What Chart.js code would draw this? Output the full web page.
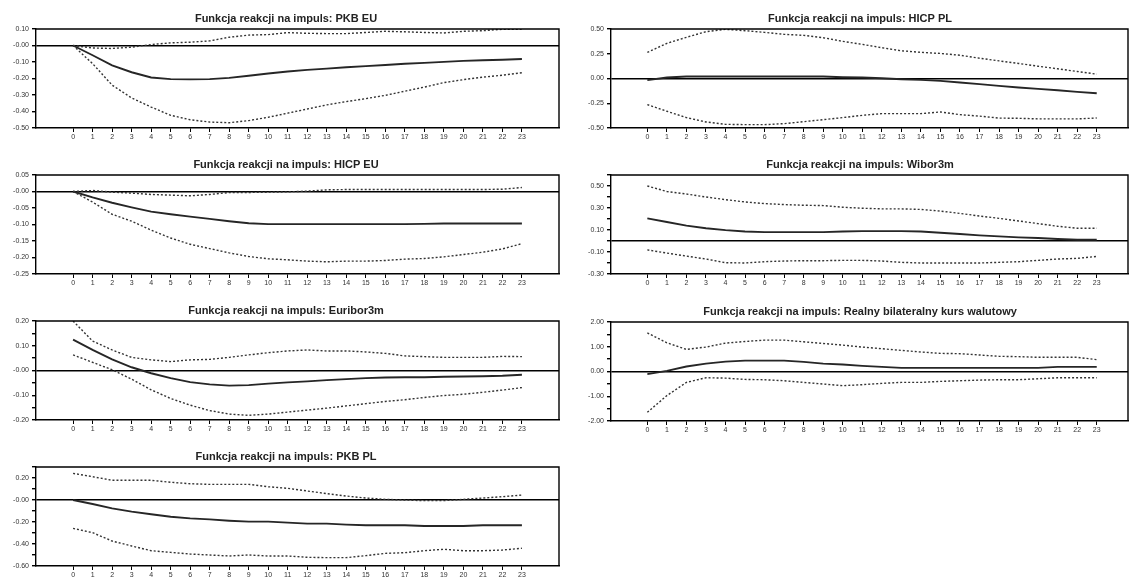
<!DOCTYPE html>
<html>
<head>
<meta charset="utf-8">
<script src="https://cdn.jsdelivr.net/npm/chart.js@4/dist/chart.umd.min.js"></script>
<style>
  html, body { margin: 0; padding: 0; background: #fff; }
  body { width: 1129px; height: 579px; overflow: hidden; position: relative; }
  canvas { position: absolute; }
</style>
</head>
<body>
<canvas id="c1"></canvas>
<canvas id="c2"></canvas>
<canvas id="c3"></canvas>
<canvas id="c4"></canvas>
<canvas id="c5"></canvas>
<canvas id="c6"></canvas>
<canvas id="c7"></canvas>
<script>
// Horizons (periods after the shock)
const horizons = [0, 1, 2, 3, 4, 5, 6, 7, 8, 9, 10, 11, 12, 13, 14, 15, 16, 17, 18, 19, 20, 21, 22, 23];

// Impulse responses with lower / upper confidence bands
const pkbEuResp  = [0, -0.059, -0.12, -0.162, -0.194, -0.204, -0.205, -0.204, -0.196, -0.183, -0.17, -0.158, -0.148, -0.14, -0.132, -0.125, -0.118, -0.111, -0.105, -0.099, -0.093, -0.089, -0.086, -0.082];
const pkbEuUpper = [0, -0.015, -0.018, -0.01, 0.006, 0.016, 0.02, 0.028, 0.05, 0.063, 0.066, 0.078, 0.074, 0.072, 0.072, 0.079, 0.086, 0.083, 0.079, 0.076, 0.086, 0.09, 0.098, 0.099];
const pkbEuLower = [0, -0.11, -0.24, -0.318, -0.373, -0.423, -0.45, -0.464, -0.468, -0.455, -0.435, -0.41, -0.385, -0.36, -0.34, -0.322, -0.302, -0.277, -0.252, -0.225, -0.207, -0.192, -0.18, -0.165];

const hicpEuResp  = [0, -0.018, -0.034, -0.048, -0.061, -0.069, -0.076, -0.083, -0.09, -0.096, -0.099, -0.099, -0.099, -0.099, -0.099, -0.099, -0.099, -0.099, -0.098, -0.097, -0.097, -0.097, -0.097, -0.097];
const hicpEuUpper = [0, 0.003, -0.002, -0.005, -0.009, -0.011, -0.013, -0.009, -0.003, -0.003, -0.002, -0.001, 0.001, 0.005, 0.006, 0.006, 0.006, 0.006, 0.006, 0.006, 0.006, 0.006, 0.007, 0.012];
const hicpEuLower = [0, -0.032, -0.069, -0.09, -0.117, -0.141, -0.16, -0.173, -0.186, -0.197, -0.204, -0.207, -0.211, -0.213, -0.211, -0.211, -0.209, -0.205, -0.203, -0.198, -0.191, -0.184, -0.174, -0.158];

const euriborResp  = [0.125, 0.083, 0.045, 0.013, -0.011, -0.031, -0.047, -0.056, -0.061, -0.059, -0.053, -0.048, -0.044, -0.039, -0.035, -0.031, -0.028, -0.027, -0.027, -0.025, -0.024, -0.023, -0.021, -0.017];
const euriborUpper = [0.2, 0.119, 0.083, 0.053, 0.043, 0.036, 0.043, 0.045, 0.053, 0.063, 0.072, 0.079, 0.083, 0.079, 0.079, 0.075, 0.069, 0.059, 0.056, 0.053, 0.053, 0.053, 0.057, 0.056];
const euriborLower = [0.063, 0.033, 0.003, -0.035, -0.078, -0.113, -0.14, -0.162, -0.176, -0.181, -0.176, -0.168, -0.16, -0.152, -0.143, -0.134, -0.125, -0.118, -0.109, -0.101, -0.096, -0.088, -0.079, -0.069];

const pkbPlResp  = [0, -0.036, -0.076, -0.106, -0.13, -0.152, -0.167, -0.176, -0.188, -0.197, -0.197, -0.206, -0.215, -0.215, -0.224, -0.23, -0.23, -0.23, -0.236, -0.236, -0.236, -0.23, -0.23, -0.23];
const pkbPlUpper = [0.242, 0.212, 0.179, 0.179, 0.179, 0.161, 0.148, 0.142, 0.142, 0.142, 0.121, 0.106, 0.082, 0.058, 0.036, 0.018, 0.006, 0, -0.006, -0.006, 0.006, 0.018, 0.03, 0.045];
const pkbPlLower = [-0.258, -0.297, -0.373, -0.418, -0.461, -0.476, -0.491, -0.5, -0.509, -0.5, -0.509, -0.509, -0.521, -0.524, -0.524, -0.506, -0.485, -0.479, -0.461, -0.448, -0.461, -0.461, -0.455, -0.439];

const hicpPlResp  = [-0.017, 0.01, 0.02, 0.02, 0.02, 0.02, 0.02, 0.02, 0.02, 0.02, 0.013, 0.01, 0.003, -0.007, -0.014, -0.024, -0.04, -0.057, -0.074, -0.091, -0.105, -0.118, -0.135, -0.149];
const hicpPlUpper = [0.264, 0.355, 0.416, 0.473, 0.497, 0.483, 0.466, 0.446, 0.436, 0.412, 0.375, 0.345, 0.311, 0.28, 0.264, 0.253, 0.235, 0.205, 0.178, 0.152, 0.124, 0.098, 0.071, 0.044];
const hicpPlLower = [-0.264, -0.331, -0.395, -0.439, -0.463, -0.466, -0.466, -0.456, -0.436, -0.416, -0.395, -0.372, -0.355, -0.355, -0.355, -0.338, -0.365, -0.38, -0.4, -0.402, -0.408, -0.408, -0.408, -0.399];

const wiborResp  = [0.206, 0.173, 0.14, 0.116, 0.099, 0.087, 0.081, 0.081, 0.081, 0.081, 0.087, 0.09, 0.09, 0.09, 0.087, 0.075, 0.063, 0.051, 0.042, 0.033, 0.027, 0.018, 0.012, 0.012];
const wiborUpper = [0.5, 0.45, 0.427, 0.4, 0.376, 0.355, 0.34, 0.331, 0.325, 0.322, 0.307, 0.298, 0.292, 0.292, 0.287, 0.272, 0.251, 0.227, 0.206, 0.182, 0.158, 0.134, 0.116, 0.116];
const wiborLower = [-0.081, -0.11, -0.137, -0.164, -0.197, -0.2, -0.188, -0.182, -0.179, -0.179, -0.176, -0.176, -0.182, -0.194, -0.2, -0.2, -0.2, -0.2, -0.194, -0.188, -0.176, -0.164, -0.158, -0.14];

const kursResp  = [-0.107, 0.027, 0.2, 0.32, 0.4, 0.44, 0.44, 0.44, 0.387, 0.32, 0.28, 0.227, 0.187, 0.147, 0.147, 0.147, 0.147, 0.147, 0.147, 0.147, 0.147, 0.187, 0.187, 0.187];
const kursUpper = [1.56, 1.16, 0.893, 0.987, 1.147, 1.213, 1.267, 1.267, 1.2, 1.133, 1.067, 0.987, 0.92, 0.853, 0.787, 0.733, 0.72, 0.667, 0.613, 0.6, 0.573, 0.573, 0.573, 0.48];
const kursLower = [-1.65, -0.973, -0.44, -0.253, -0.267, -0.32, -0.333, -0.373, -0.44, -0.507, -0.573, -0.533, -0.48, -0.44, -0.44, -0.4, -0.373, -0.347, -0.333, -0.333, -0.293, -0.253, -0.253, -0.253];

// Y-axis tick positions and their labels ('' = unlabelled minor tick)
const pkbEuTicks  = [0.1, 0, -0.1, -0.2, -0.3, -0.4, -0.5];
const pkbEuLabels = ['0.10', '-0.00', '-0.10', '-0.20', '-0.30', '-0.40', '-0.50'];
const hicpEuTicks  = [0.05, 0, -0.05, -0.1, -0.15, -0.2, -0.25];
const hicpEuLabels = ['0.05', '-0.00', '-0.05', '-0.10', '-0.15', '-0.20', '-0.25'];
const euriborTicks  = [0.2, 0.15, 0.1, 0.05, 0, -0.05, -0.1, -0.15, -0.2];
const euriborLabels = ['0.20', '', '0.10', '', '-0.00', '', '-0.10', '', '-0.20'];
const pkbPlTicks  = [0.3, 0.2, 0.1, 0, -0.1, -0.2, -0.3, -0.4, -0.5, -0.6];
const pkbPlLabels = ['', '0.20', '', '-0.00', '', '-0.20', '', '-0.40', '', '-0.60'];
const hicpPlTicks  = [0.5, 0.25, 0, -0.25, -0.5];
const hicpPlLabels = ['0.50', '0.25', '0.00', '-0.25', '-0.50'];
const wiborTicks  = [0.6, 0.5, 0.4, 0.3, 0.2, 0.1, 0, -0.1, -0.2, -0.3];
const wiborLabels = ['', '0.50', '', '0.30', '', '0.10', '', '-0.10', '', '-0.30'];
const kursTicks  = [2, 1.5, 1, 0.5, 0, -0.5, -1, -1.5, -2];
const kursLabels = ['2.00', '', '1.00', '', '0.00', '', '-1.00', '', '-2.00'];

const FONT = "'Liberation Sans', Arial, sans-serif";
const INK = '#222';

// Panel geometry: canvas box and horizontal axis range
const LEFT  = { left: 0,   width: 572, padRight: 13, xMin: -1.9,  xMax: 24.9 };
const RIGHT = { left: 575, width: 570, padRight: 17, xMin: -1.86, xMax: 24.6 };
const TITLE_H = 29, AREA_H = 99, XAXIS_H = 16;

const panels = [
  { id: 'c1', col: LEFT,  top: 0,   title: 'Funkcja reakcji na impuls: PKB EU',  resp: pkbEuResp,  up: pkbEuUpper,  lo: pkbEuLower,  ticks: pkbEuTicks,  labels: pkbEuLabels,  min: -0.5,  max: 0.1 },
  { id: 'c2', col: LEFT,  top: 146, title: 'Funkcja reakcji na impuls: HICP EU', resp: hicpEuResp, up: hicpEuUpper, lo: hicpEuLower, ticks: hicpEuTicks, labels: hicpEuLabels, min: -0.25, max: 0.05 },
  { id: 'c3', col: LEFT,  top: 292, title: 'Funkcja reakcji na impuls: Euribor3m', resp: euriborResp, up: euriborUpper, lo: euriborLower, ticks: euriborTicks, labels: euriborLabels, min: -0.2, max: 0.2 },
  { id: 'c4', col: LEFT,  top: 438, title: 'Funkcja reakcji na impuls: PKB PL',  resp: pkbPlResp,  up: pkbPlUpper,  lo: pkbPlLower,  ticks: pkbPlTicks,  labels: pkbPlLabels,  min: -0.6,  max: 0.3 },
  { id: 'c5', col: RIGHT, top: 0,   title: 'Funkcja reakcji na impuls: HICP PL', resp: hicpPlResp, up: hicpPlUpper, lo: hicpPlLower, ticks: hicpPlTicks, labels: hicpPlLabels, min: -0.5,  max: 0.5 },
  { id: 'c6', col: RIGHT, top: 146, title: 'Funkcja reakcji na impuls: Wibor3m', resp: wiborResp,  up: wiborUpper,  lo: wiborLower,  ticks: wiborTicks,  labels: wiborLabels,  min: -0.3,  max: 0.6 },
  { id: 'c7', col: RIGHT, top: 293, title: 'Funkcja reakcji na impuls: Realny bilateralny kurs walutowy', resp: kursResp, up: kursUpper, lo: kursLower, ticks: kursTicks, labels: kursLabels, min: -2, max: 2 }
];

// Closes the plot box on the top and right sides
const frame = {
  id: 'frame',
  afterDraw(chart) {
    const { ctx, chartArea: a } = chart;
    ctx.save();
    ctx.strokeStyle = '#000';
    ctx.lineWidth = 1.4;
    ctx.beginPath();
    ctx.moveTo(a.left, a.top);
    ctx.lineTo(a.right, a.top);
    ctx.lineTo(a.right, a.bottom);
    ctx.stroke();
    ctx.restore();
  }
};

const toPoints = arr => arr.map((v, i) => ({ x: horizons[i], y: v }));

panels.forEach(p => {
  const cv = document.getElementById(p.id);
  const h = TITLE_H + AREA_H + XAXIS_H;
  cv.width = p.col.width;
  cv.height = h;
  cv.style.left = p.col.left + 'px';
  cv.style.top = p.top + 'px';
  cv.style.width = p.col.width + 'px';
  cv.style.height = h + 'px';

  const bandStyle = { borderColor: '#333', borderWidth: 1.4, borderDash: [2, 2], pointRadius: 0, fill: false, tension: 0 };
  new Chart(cv, {
    type: 'line',
    data: {
      datasets: [
        Object.assign({ data: toPoints(p.up) }, bandStyle),
        Object.assign({ data: toPoints(p.lo) }, bandStyle),
        { data: toPoints(p.resp), borderColor: '#262626', borderWidth: 1.9, pointRadius: 0, fill: false, tension: 0 }
      ]
    },
    options: {
      responsive: false,
      animation: false,
      devicePixelRatio: 1,
      layout: { padding: 0 },
      plugins: {
        legend: { display: false },
        tooltip: { enabled: false },
        title: {
          display: true,
          text: p.title,
          color: INK,
          font: { family: FONT, size: 11, weight: 'bold', lineHeight: 1.2 },
          padding: { top: 12, bottom: 3.8 }
        }
      },
      scales: {
        x: {
          type: 'linear',
          min: p.col.xMin,
          max: p.col.xMax,
          afterBuildTicks: s => { s.ticks = horizons.map(v => ({ value: v })); },
          afterFit: s => { s.height = XAXIS_H; },
          ticks: {
            autoSkip: false, maxRotation: 0, padding: 1,
            color: '#333', font: { family: FONT, size: 7 },
            callback: v => String(v)
          },
          grid: { drawOnChartArea: false, drawTicks: true, tickLength: 4, color: '#000', lineWidth: 1 },
          border: { display: true, color: '#000', width: 1.4 }
        },
        y: {
          type: 'linear',
          min: p.min,
          max: p.max,
          afterBuildTicks: s => { s.ticks = p.ticks.map(v => ({ value: v })); },
          afterFit: s => { s.width = 36; },
          ticks: {
            autoSkip: false, padding: 3,
            color: '#333', font: { family: FONT, size: 7 },
            callback: v => {
              const k = p.ticks.findIndex(t => Math.abs(t - v) < 1e-9);
              return k >= 0 ? p.labels[k] : '';
            }
          },
          grid: {
            drawTicks: true, tickLength: 4,
            color: c => (c.tick && c.tick.value === 0) ? '#000' : 'rgba(0,0,0,0)',
            tickColor: '#000',
            lineWidth: 1.4
          },
          border: { display: true, color: '#000', width: 1.4 }
        },
        gutter: {
          type: 'linear',
          position: 'right',
          display: true,
          afterFit: s => { s.width = p.col.padRight; },
          ticks: { display: false },
          grid: { display: false },
          border: { display: false }
        }
      }
    },
    plugins: [frame]
  });
});
</script>
</body>
</html>
